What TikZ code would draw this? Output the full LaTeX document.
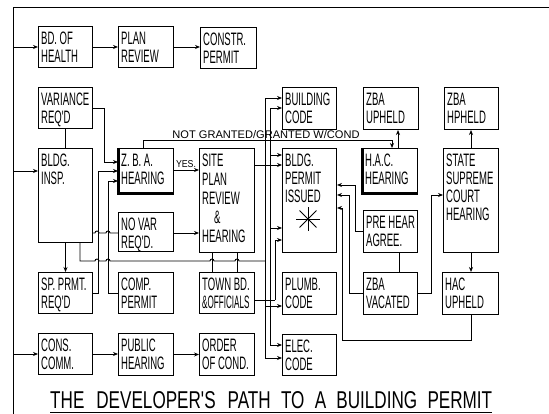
\documentclass[tikz,border=0pt]{standalone}
\usepackage{fontspec}
\usepackage{graphicx}
\newfontfamily\hand[FakeStretch=0.53]{Liberation Sans}
\newfontfamily\handw{Liberation Sans}
\usetikzlibrary{arrows.meta,calc}
\tikzset{
  box/.style={draw, line width=1pt, inner sep=0pt, anchor=north west},
  lab/.style={anchor=north west, inner sep=0pt, xshift=3pt, yshift=-6pt, align=left,
              font=\hand\fontsize{18}{18}\selectfont},
  arr/.style={-{Stealth[length=5pt,width=4pt]}, line width=0.9pt},
  ln/.style={line width=0.9pt},
  heavy/.style={line width=3pt},
  tag/.style={inner sep=0pt},
}
\newcommand\BX[7][]{\node[box,minimum width=#5pt,minimum height=#6pt,
   label={[lab,#1]north west:{#7}}] (#2) at (#3,#4) {};}
\begin{document}
\begin{tikzpicture}[x=1pt,y=-1pt]
\fill[white] (0,0) rectangle (549,414);
\useasboundingbox (0,0) rectangle (549,414);

% frame
\coordinate (fc) at (13,7);
\coordinate (fb) at (13,414);
\coordinate (fr) at (549,7);
\draw[ln] (fb) -- (fc) -- (fr);

% boxes
\BX{bd}{38}{26}{54}{41}{BD. OF\\HEALTH}
\BX{plan}{118}{26}{55}{41}{PLAN\\REVIEW}
\BX{constr}{200}{27}{56}{41}{CONSTR.\\PERMIT}
\BX{var}{38}{87}{54}{41}{VARIANCE\\REQ'D}
\BX{insp}{38}{148}{54}{94}{BLDG.\\INSP.}
\BX{sp}{38}{272}{54}{41}{SP. PRMT.\\REQ'D}
\BX{cons}{38}{333}{54}{41}{CONS.\\COMM.}
\BX{zba}{118}{148}{55}{45}{Z. B. A.\\HEARING}
\BX{novar}{118}{212}{55}{39}{NO VAR\\REQ'D.}
\BX{comp}{118}{272}{55}{41}{COMP.\\PERMIT}
\BX{pub}{118}{333}{55}{42}{PUBLIC\\HEARING}
\BX[font=\hand\fontsize{18}{19}\selectfont]{site}{199}{148}{55}{104}{SITE\\PLAN\\REVIEW\\\hspace*{12pt}\&\\HEARING}
\BX{town}{199}{272}{55}{41}{TOWN BD.\\\scalebox{0.85}[1]{\&OFFICIALS}}
\BX{order}{199}{333}{55}{42}{ORDER\\OF COND.}
\BX{bcode}{282}{87}{54}{42}{BUILDING\\CODE}
\BX{permit}{282}{148}{54}{104}{BLDG.\\PERMIT\\ISSUED}
\BX{plumb}{282}{272}{54}{42}{PLUMB.\\CODE}
\BX{elec}{282}{334}{54}{41}{ELEC.\\CODE}
\BX{zup}{363}{87}{55}{42}{ZBA\\UPHELD}
\BX{hac}{362}{148}{55}{45}{H.A.C.\\HEARING}
\BX{pre}{363}{210}{54}{42}{PRE HEAR\\AGREE.}
\BX{zvac}{363}{272}{54}{42}{ZBA\\VACATED}
\BX{zhp}{444}{87}{54}{42}{ZBA\\HPHELD}
\BX[font=\hand\fontsize{18}{18}\selectfont]{state}{443}{148}{55}{104}{STATE\\SUPREME\\COURT\\HEARING}
\BX{hacup}{442}{272}{56}{42}{HAC\\UPHELD}

% heavy edges
\draw[heavy] (zba.north west) -- (zba.south west) -- (zba.south east);
\draw[heavy] (hac.north west) -- (hac.south west) -- (hac.south east);

% asterisk
\node[tag] (ast) at (308,219) {};
\foreach \a in {0,45,90,135} \draw[ln] (ast) ++(\a:12) -- ++(\a+180:24);

% frame arrows
\draw[arr] (fc |- bd.west) -- (bd.west);
\draw[arr] (fc |- 0,171) -- (insp.west |- 0,171);
\draw[arr] (fc |- cons.west) -- (cons.west);

% rows
\draw[arr] (bd.east) -- (plan.west);
\draw[arr] (plan.east) -- (constr.west |- plan.east);
\draw[arr] (cons.east) -- (pub.west |- cons.east);
\draw[arr] (pub.east) -- (order.west |- pub.east);

% left column
\draw[ln] (var.south) -- (insp.north);
\draw[arr] (insp.south) -- (sp.north);
\draw[arr] (var.east) -- ++(11,0) |- (zba.west |- 0,162);
\draw[arr] (sp.east) -- ++(5,0) |- (zba.west |- 0,171);
\draw[arr] (comp.west) -- ++(-10,0) |- (zba.west |- 0,181);
\draw[ln] (insp.east |- 0,233) -- (95,233) arc[start angle=180,end angle=360,radius=2]
   -- (106,233) arc[start angle=180,end angle=360,radius=2] -- (novar.west |- 0,233);

% bus from inspector
\coordinate (busA) at (265,261);
\draw[ln] (insp.south -| 80,0) -- (80,261) -- (95,261) arc[start angle=180,end angle=360,radius=2]
   -- (106,261) arc[start angle=180,end angle=360,radius=2]
   -- (210,261) arc[start angle=180,end angle=360,radius=2]
   -- (235,261) arc[start angle=180,end angle=360,radius=2] -- (busA);
\draw[arr] (busA) |- (bcode.west |- 0,98);
\draw[arr] (busA) |- (plumb.west |- 0,306);
\draw[arr] (busA) |- (elec.west |- 0,358);

% site plan links
\draw[arr] (zba.east |- 0,170) -- (site.west |- 0,170);
\node[tag, anchor=south] (yes) at (186,168) {\resizebox{20pt}{7pt}{\handw YES.}};
\draw[arr] (novar.east |- 0,233) -- (site.west |- 0,233);
\draw[ln] (site.south -| 212,0) -- (town.north -| 212,0);
\draw[ln] (site.south -| 237,0) -- (town.north -| 237,0);
\draw[arr] (site.east |- 0,165) -- (permit.west |- 0,165);

% bus from town board
\coordinate (busB) at (270,300);
\coordinate (busC) at (275,300);
\draw[ln] (town.east |- 0,300) -- (busC);
\draw[arr] (busB) |- (bcode.west |- 0,108);
\draw[arr] (busB) |- (permit.west |- 0,155);
\draw[arr] (busB) |- (permit.west |- 0,228);
\draw[arr] (busB) |- (elec.west |- 0,345);
\draw[arr] (busC) |- (permit.west |- 0,240);

% not granted
\draw[arr] (zba.north -| 143,0) -- ++(0,-8) -| (hac.north -| 392,0);
\node[tag, anchor=south] (ng) at (266,138.5) {\resizebox{187pt}{8pt}{\handw NOT GRANTED/GRANTED W/COND}};
\draw[arr] (hac.north -| 398,0) -- (zup.south -| 398,0);

% right side
\draw[arr] (state.north) -- (zhp.south -| state.north);
\draw[arr] (state.south) -- (hacup.north -| state.south);
\draw[ln] (pre.south -| 399,0) -- (zvac.north -| 399,0);
\draw[arr] (zvac.east) -- ++(13,0) |- (state.west |- 0,195);
\draw[arr] (pre.west) -- ++(-8,0) |- (permit.east |- 0,185);
\draw[arr] (zvac.west) -- ++(-14,0) |- (permit.east |- 0,195);
\coordinate (hc) at (342,340);
\draw[arr] (hacup.south -| state.south) |- (hc) |- (permit.east |- 0,208);

% title
\node[tag, anchor=south west] (title) at (50,409)
  {\resizebox{442pt}{17pt}{\handw THE\hspace{0.7em}DEVELOPER'S\hspace{0.7em}PATH\hspace{0.6em}TO\hspace{0.6em}A\hspace{0.6em}BUILDING\hspace{0.6em}PERMIT}};
\draw[ln] ($(title.south west)+(0,3)$) -- ($(title.south east)+(0,3)$);
\end{tikzpicture}
\end{document}
